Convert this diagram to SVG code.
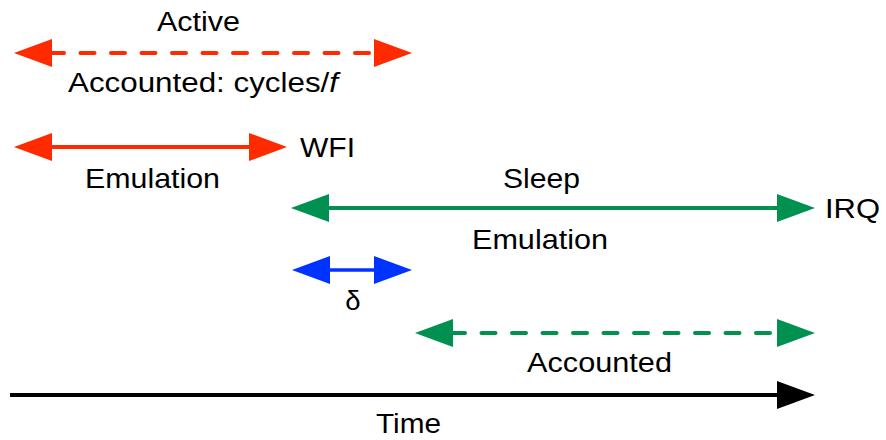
<svg xmlns="http://www.w3.org/2000/svg" width="886" height="440" viewBox="0 0 886 440">
<style>
text{font-family:"Liberation Sans",Arial,sans-serif;font-size:27.5px;fill:#000}
.c{text-anchor:middle}
line{stroke-width:4;fill:none}
.red{stroke:#FF2A00}
.grn{stroke:#00904F}
.blu{stroke:#0033FF;stroke-width:3.5}
.blk{stroke:#000}
.dash{stroke-dasharray:14 16.5;stroke-dashoffset:2;stroke-linecap:round}
</style>
<defs>
<marker id="hr" markerUnits="userSpaceOnUse" markerWidth="40" markerHeight="30" refX="0" refY="15" orient="auto-start-reverse" viewBox="0 0 40 30"><path d="M0,1 L38,15 L0,29 z" fill="#FF2A00"/></marker>
<marker id="hg" markerUnits="userSpaceOnUse" markerWidth="40" markerHeight="30" refX="0" refY="15" orient="auto-start-reverse" viewBox="0 0 40 30"><path d="M0,1 L38,15 L0,29 z" fill="#00904F"/></marker>
<marker id="hb" markerUnits="userSpaceOnUse" markerWidth="40" markerHeight="30" refX="0" refY="15" orient="auto-start-reverse" viewBox="0 0 40 30"><path d="M0,1 L38,15 L0,29 z" fill="#0033FF"/></marker>
<marker id="hk" markerUnits="userSpaceOnUse" markerWidth="40" markerHeight="30" refX="0" refY="15" orient="auto" viewBox="0 0 40 30"><path d="M0,1 L38,15 L0,29 z" fill="#000"/></marker>
</defs>
<g id="connectors">
<line class="red dash" x1="52" y1="53" x2="374" y2="53" marker-start="url(#hr)" marker-end="url(#hr)"/>
<line class="red" x1="52" y1="147" x2="249" y2="147" marker-start="url(#hr)" marker-end="url(#hr)"/>
<line class="grn" x1="329" y1="208" x2="777" y2="208" marker-start="url(#hg)" marker-end="url(#hg)"/>
<line class="blu" x1="330" y1="270" x2="374" y2="270" marker-start="url(#hb)" marker-end="url(#hb)"/>
<line class="grn dash" x1="453" y1="333" x2="777" y2="333" marker-start="url(#hg)" marker-end="url(#hg)"/>
<line class="blk" x1="10" y1="395" x2="777" y2="395" marker-end="url(#hk)"/>
</g>
<g id="active"><text x="157" y="31" textLength="83" lengthAdjust="spacingAndGlyphs">Active</text></g>
<g id="accounted-cycles"><text x="68" y="92" textLength="270" lengthAdjust="spacingAndGlyphs">Accounted: cycles/<tspan font-style="italic">f</tspan></text></g>
<g id="wfi"><text x="300" y="157" textLength="55" lengthAdjust="spacingAndGlyphs">WFI</text></g>
<g id="emulation-active"><text x="85" y="188" textLength="135" lengthAdjust="spacingAndGlyphs">Emulation</text></g>
<g id="sleep"><text x="503" y="188" textLength="77" lengthAdjust="spacingAndGlyphs">Sleep</text></g>
<g id="irq"><text x="825" y="218" textLength="55" lengthAdjust="spacingAndGlyphs">IRQ</text></g>
<g id="emulation-sleep"><text x="472" y="249" textLength="136" lengthAdjust="spacingAndGlyphs">Emulation</text></g>
<g id="delta"><text class="c" x="353" y="310">δ</text></g>
<g id="accounted"><text x="527" y="372" textLength="145" lengthAdjust="spacingAndGlyphs">Accounted</text></g>
<g id="time"><text x="376" y="433" textLength="65" lengthAdjust="spacingAndGlyphs">Time</text></g>
</svg>
